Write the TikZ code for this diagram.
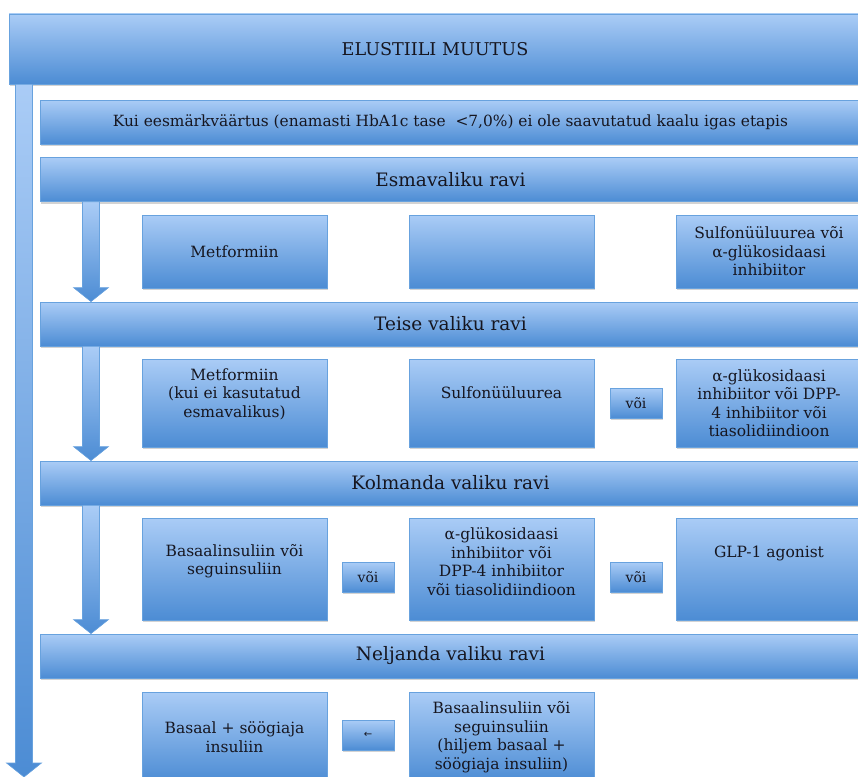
\documentclass[tikz,border=0pt]{standalone}
\usepackage{fontspec}
\setmainfont{DejaVu Serif}
\newfontfamily\arrowfont{DejaVu Sans}
\usetikzlibrary{shadows, calc}

\definecolor{boxtop}{RGB}{170,204,246}
\definecolor{boxbot}{RGB}{76,140,212}
\definecolor{boxline}{RGB}{104,162,222}
\definecolor{ink}{RGB}{22,22,32}

\tikzset{
  panel/.style={draw=boxline, line width=0.8pt, top color=boxtop, bottom color=boxbot,
    inner sep=2pt, text=ink, align=center,
    drop shadow={shadow xshift=0.8pt, shadow yshift=-2.2pt, opacity=0.35}},
  band/.style={panel, minimum width=821pt, minimum height=44pt, font=\fontsize{18.5}{22}\selectfont},
  option/.style={panel, minimum width=185pt, font=\fontsize{15.5}{18.5}\selectfont},
  orbox/.style={panel, minimum width=52pt, minimum height=30pt, font=\fontsize{14}{16}\selectfont},
  flow/.style={draw=boxline, line width=0.6pt, top color=boxtop, bottom color=boxbot},
}

% text sitting higher than the middle of its box
\newcommand\liftup[2]{\raisebox{#1}[\height][\depth]{\begin{tabular}{@{}c@{}}#2\end{tabular}}}

\newcommand\flowarrow[2]{%
  \path[flow] let \p1=(#1), \p2=(#2) in
    (\x1-8.5pt,\y1) -- (\x1+8.5pt,\y1) -- (\x1+8.5pt,\y2+14pt)
    -- (\x1+17.5pt,\y2+14pt) -- (\x1,\y2) -- (\x1-17.5pt,\y2+14pt)
    -- (\x1-8.5pt,\y2+14pt) -- cycle;}

\begin{document}
\begin{tikzpicture}[x=1pt, y=-1pt]
  \useasboundingbox (0,0) rectangle (858,776);
  \clip (0,0) rectangle (858,776);

  \coordinate (spine) at (24,777);
  \coordinate (rail) at (91,0);

  \node[panel, minimum width=852pt, minimum height=70pt, font=\fontsize{17.6}{21}\selectfont]
    (life) at (435,49) {ELUSTIILI MUUTUS};
  \flowarrow{life.south -| spine}{spine}

  \node[band, font=\fontsize{15.4}{18}\selectfont] (goal) at (450.5,122)
    {Kui eesmärkväärtus (enamasti HbA1c tase\ \ <7,0\%) ei ole saavutatud kaalu igas etapis};

  \node[band] (esma) at (450.5,179.5) {Esmavaliku ravi};
  \node[band] (teise) at (450.5,324) {Teise valiku ravi};
  \node[band] (kolm) at (450.5,483) {Kolmanda valiku ravi};
  \node[band] (nelj) at (450.5,656) {Neljanda valiku ravi};

  \node[option, minimum height=73pt] (met1) at (234.5,251.5) {Metformiin};
  \node[option, minimum height=73pt] (blank1) at (501.5,251.5) {};
  \node[option, minimum height=73pt] (sulf1) at (769,251.5)
    {Sulfonüüluurea või\\α-glükosidaasi\\inhibiitor};

  \node[option, minimum height=88pt] (met2) at (234.5,403)
    {\liftup{8pt}{Metformiin\\(kui ei kasutatud\\esmavalikus)}};
  \node[option, minimum height=88pt] (sulf2) at (501.5,403) {\liftup{8pt}{Sulfonüüluurea}};
  \node[orbox] (or2) at (636,403) {või};
  \node[option, minimum height=88pt] (alpha2) at (769,403)
    {α-glükosidaasi\\inhibiitor või DPP-\\4 inhibiitor või\\tiasolidiindioon};

  \node[option, minimum height=102pt] (basal3) at (234.5,569)
    {\liftup{7pt}{Basaalinsuliin või\\seguinsuliin}};
  \node[orbox] (or3a) at (368,577) {või};
  \node[option, minimum height=102pt] (alpha3) at (501.5,569)
    {\liftup{5pt}{α-glükosidaasi\\inhibiitor või\\DPP-4 inhibiitor\\või tiasolidiindioon}};
  \node[orbox] (or3b) at (636,577) {või};
  \node[option, minimum height=102pt] (glp3) at (769,569) {\liftup{15pt}{GLP-1 agonist}};

  \node[option, minimum height=90pt] (bolus4) at (234.5,737)
    {Basaal + söögiaja\\insuliin};
  \node[orbox, font=\arrowfont\fontsize{10}{12}\selectfont] (back4) at (368,735) {←};
  \node[option, minimum height=90pt] (basal4) at (501.5,737)
    {Basaalinsuliin või\\seguinsuliin\\(hiljem basaal +\\söögiaja insuliin)};

  \flowarrow{esma.south -| rail}{teise.north -| rail}
  \flowarrow{teise.south -| rail}{kolm.north -| rail}
  \flowarrow{kolm.south -| rail}{nelj.north -| rail}
\end{tikzpicture}
\end{document}
